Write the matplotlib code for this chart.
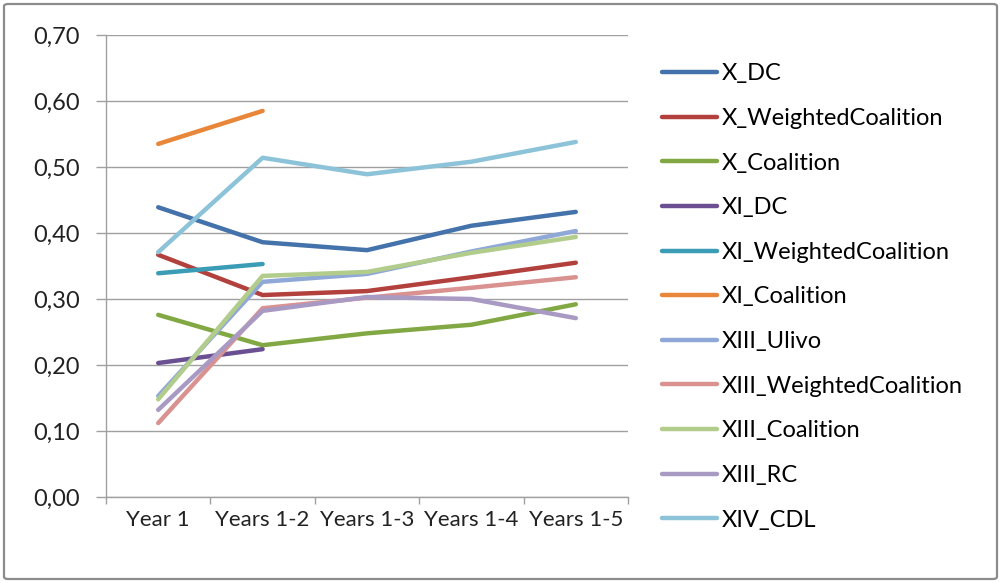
import matplotlib
matplotlib.use("Agg")
import matplotlib.pyplot as plt
from matplotlib.patches import FancyBboxPatch
import numpy as np

categories = ["Year 1", "Years 1-2", "Years 1-3", "Years 1-4", "Years 1-5"]

x_dc = [0.439, 0.386, 0.374, 0.411, 0.432]
x_weighted = [0.367, 0.306, 0.312, 0.333, 0.355]
x_coalition = [0.276, 0.230, 0.248, 0.261, 0.292]
xi_dc = [0.203, 0.224]
xi_weighted = [0.339, 0.353]
xi_coalition = [0.535, 0.585]
xiii_ulivo = [0.153, 0.326, 0.338, 0.372, 0.403]
xiii_weighted = [0.112, 0.286, 0.302, 0.317, 0.333]
xiii_coalition = [0.148, 0.335, 0.341, 0.370, 0.394]
xiii_rc = [0.132, 0.282, 0.303, 0.300, 0.271]
xiv_cdl = [0.371, 0.514, 0.489, 0.508, 0.538]

series = [
    ("X_DC", x_dc, "#4472AA"),
    ("X_WeightedCoalition", x_weighted, "#B2403D"),
    ("X_Coalition", x_coalition, "#82A844"),
    ("XI_DC", xi_dc, "#6A4F92"),
    ("XI_WeightedCoalition", xi_weighted, "#3A9CB5"),
    ("XI_Coalition", xi_coalition, "#E8873A"),
    ("XIII_Ulivo", xiii_ulivo, "#8FA8D8"),
    ("XIII_WeightedCoalition", xiii_weighted, "#D99290"),
    ("XIII_Coalition", xiii_coalition, "#B2CC8C"),
    ("XIII_RC", xiii_rc, "#A99AC4"),
    ("XIV_CDL", xiv_cdl, "#8CC3D8"),
]

plt.rcParams['font.family'] = ['Lato', 'DejaVu Sans']

W, H = 1001, 583
fig = plt.figure(figsize=(W / 100, H / 100), dpi=100)

border = FancyBboxPatch((4 / W, 4 / H), (W - 8) / W, (H - 8) / H,
                        boxstyle="round,pad=0,rounding_size=0.004",
                        transform=fig.transFigure, fill=False,
                        edgecolor="#8C8C8C", linewidth=1.6)
fig.patches.append(border)

ax = fig.add_axes([106 / W, 1 - 497 / H, (628 - 106) / W, (497 - 35) / H])

for name, vals, col in series:
    ax.plot(np.arange(len(vals)), vals, color=col, lw=3.2, label=name,
            solid_capstyle="round", solid_joinstyle="round")

ax.set_xlim(-0.5, len(categories) - 0.5)
ax.set_ylim(0, 0.70)
yt = np.arange(0, 0.71, 0.10)
ax.set_yticks(yt)
ax.set_yticklabels([f"{v:.2f}".replace(".", ",") for v in yt])
ax.yaxis.grid(True, color="#A0A0A0", lw=1.0)
ax.set_axisbelow(True)

ax.set_xticks(np.arange(len(categories)))
ax.set_xticklabels(categories)
ax.tick_params(axis="x", length=0, pad=9, labelsize=16, colors="#222222")
ax.set_xticks(np.arange(-0.5, len(categories)), minor=True)
ax.tick_params(axis="x", which="minor", length=5, color="#A0A0A0", width=1)
ax.tick_params(axis="y", length=7, color="#A0A0A0", width=1, pad=12,
               labelsize=17, labelcolor="#222222")

for s in ["top", "right"]:
    ax.spines[s].set_visible(False)
for s in ["left", "bottom"]:
    ax.spines[s].set_color("#A0A0A0")
    ax.spines[s].set_linewidth(1.0)

leg = ax.legend(loc="upper left", bbox_to_anchor=(653 / W, 1 - 54 / H),
                bbox_transform=fig.transFigure, frameon=False, fontsize=17,
                handlelength=2.33, handletextpad=0.17, labelspacing=1.0,
                borderaxespad=0)
for line in leg.get_lines():
    line.set_linewidth(3.2)

fig.savefig("out.png", dpi=100)
